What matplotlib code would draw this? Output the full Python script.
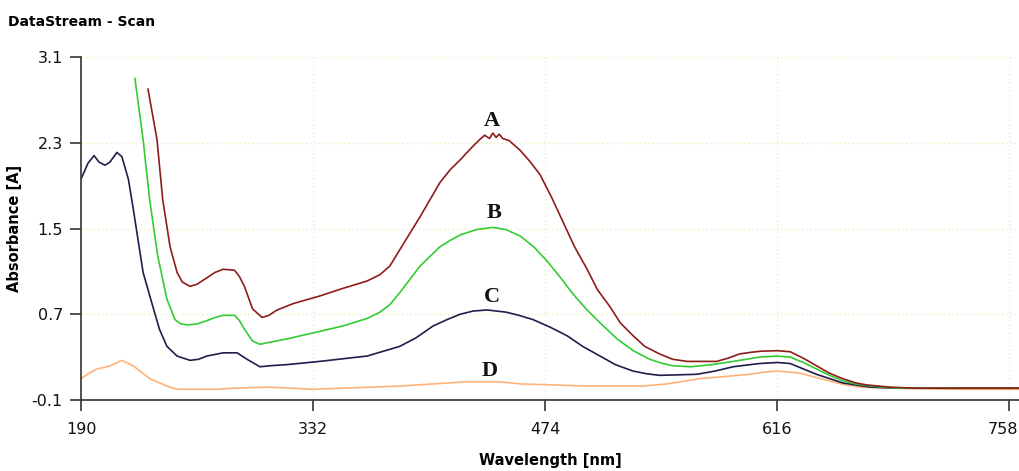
import matplotlib
matplotlib.use("Agg")
import matplotlib.pyplot as plt
from matplotlib import transforms

# ---- data ----
wl_a = [231, 236.5, 240, 244.5, 248.8, 252, 256.7, 261, 267, 272, 277, 284, 287, 290, 295, 300.8, 305, 310,
        320, 336, 350, 365, 373, 379, 385, 397.5, 409.7, 416, 422, 430, 434, 437, 440, 442, 444, 446, 448,
        452, 458.7, 465, 471, 478, 485, 492, 499.7, 506, 513.7, 520, 527.8, 535, 544, 552, 561, 570, 579,
        586, 593, 600, 606, 616, 624, 632, 640, 648, 656, 664, 671, 685, 700, 730, 765]
abs_a = [2.80, 2.33, 1.77, 1.33, 1.09, 1.00, 0.96, 0.98, 1.04, 1.09, 1.12, 1.11, 1.05, 0.96, 0.75, 0.67, 0.69, 0.74,
         0.80, 0.87, 0.94, 1.01, 1.07, 1.15, 1.30, 1.61, 1.93, 2.05, 2.14, 2.27, 2.33, 2.37, 2.34, 2.39, 2.35, 2.38,
         2.34, 2.32, 2.23, 2.12, 2.00, 1.79, 1.56, 1.33, 1.12, 0.93, 0.77, 0.62, 0.50, 0.40, 0.33, 0.28, 0.26,
         0.26, 0.26, 0.29, 0.33, 0.345, 0.355, 0.36, 0.35, 0.29, 0.22, 0.15, 0.10, 0.06, 0.04, 0.02, 0.01, 0.01,
         0.01]

wl_b = [223, 228, 232, 237, 242.6, 247.5, 251, 255.5, 261, 267, 272, 277, 284, 287, 290, 295, 299.5, 306, 316,
        336, 350, 365, 373, 379, 385, 397.5, 409.7, 416, 422, 432, 442, 450, 458.7, 467, 475, 483, 491, 499.7,
        509, 518, 528, 538, 545, 552, 563, 576, 589, 605, 616, 624, 632, 640, 648, 656, 664, 673, 690, 730, 765]
abs_b = [2.90, 2.33, 1.77, 1.24, 0.84, 0.65, 0.61, 0.60, 0.61, 0.64, 0.67, 0.69, 0.69, 0.64, 0.56, 0.45, 0.42, 0.44,
         0.47, 0.54, 0.59, 0.66, 0.72, 0.79, 0.90, 1.15, 1.33, 1.39, 1.44, 1.49, 1.51, 1.49, 1.43, 1.33, 1.20, 1.05,
         0.89, 0.74, 0.60, 0.47, 0.36, 0.28, 0.245, 0.22, 0.21, 0.23, 0.26, 0.30, 0.31, 0.30, 0.25, 0.19, 0.13,
         0.08, 0.05, 0.03, 0.01, 0.01, 0.01]

wl_c = [190, 194.3, 198, 201, 204.7, 207.7, 212, 215, 219, 221.8, 228, 234, 238, 242.6, 248.8, 256.7, 262, 267,
        277, 285.5, 291.6, 299.5, 306, 316, 336, 365, 385, 395, 405.4, 414, 422, 430, 438.5, 450, 458, 466.6,
        477, 487.4, 497, 507.6, 517, 527.8, 536, 544, 556, 567, 578, 589, 605, 616, 624, 632, 640, 648, 656,
        664, 673, 690, 730, 765]
abs_c = [1.96, 2.11, 2.18, 2.12, 2.09, 2.12, 2.21, 2.17, 1.96, 1.70, 1.09, 0.77, 0.56, 0.40, 0.31, 0.27, 0.28, 0.31,
         0.34, 0.34, 0.28, 0.21, 0.22, 0.23, 0.26, 0.31, 0.40, 0.48, 0.59, 0.65, 0.70, 0.73, 0.74, 0.72, 0.69, 0.65,
         0.58, 0.50, 0.40, 0.31, 0.23, 0.17, 0.145, 0.13, 0.135, 0.14, 0.17, 0.21, 0.24, 0.25, 0.24, 0.19, 0.14,
         0.10, 0.06, 0.04, 0.02, 0.01, 0.01, 0.01]

wl_d = [190, 195, 199.8, 206, 211, 215, 221.8, 227, 232, 242.6, 248.8, 273, 283, 303.8, 319.7, 332, 385, 426,
        446, 459, 480, 499.7, 534, 548.6, 569, 585, 599, 608, 616, 624, 630, 640, 650, 658, 667, 690, 730, 765]
abs_d = [0.10, 0.15, 0.19, 0.21, 0.24, 0.27, 0.22, 0.16, 0.10, 0.03, 0.00, 0.00, 0.01, 0.02, 0.01, 0.00, 0.03, 0.07,
         0.07, 0.05, 0.04, 0.03, 0.03, 0.05, 0.10, 0.12, 0.14, 0.16, 0.17, 0.16, 0.15, 0.11, 0.07, 0.04, 0.02, 0.01,
         0.00, 0.00]

wl_base = [685, 765]
abs_base = [0.01, 0.01]

labels = ["A", "B", "C", "D"]
label_x = [441.5, 442.8, 441.5, 440]
label_y = [2.50, 1.64, 0.86, 0.17]

xticks = [190, 332, 474, 616, 758]
yticks = [-0.1, 0.7, 1.5, 2.3, 3.1]
ytick_labels = ["-0.1", "0.7", "1.5", "2.3", "3.1"]

# ---- figure ----
fig = plt.figure(figsize=(10.2, 4.71), dpi=100)
ax = fig.add_axes([81 / 1020, 1 - 400 / 471, 1 - 81 / 1020, (400 - 57) / 471])

ax.plot(wl_base, abs_base, color="#d8e020", lw=1.2)
ax.plot(wl_d, abs_d, color="#ffb278", lw=1.2)
ax.plot(wl_c, abs_c, color="#1e1e4c", lw=1.2)
ax.plot(wl_b, abs_b, color="#33cc33", lw=1.2)
ax.plot(wl_a, abs_a, color="#8e1c1c", lw=1.2)

for t, x, y in zip(labels, label_x, label_y):
    ax.text(x, y, t, ha="center", va="center", fontsize=16, fontweight="bold",
            family="Liberation Serif", color="#111111")

ax.set_xlim(190, 764.6)
ax.set_ylim(-0.1, 3.1)
ax.set_xticks(xticks)
ax.set_xticklabels([str(v) for v in xticks])
ax.set_yticks(yticks)
ax.set_yticklabels(ytick_labels)

ax.grid(True, color="#eeeebb", linestyle=(0, (1, 2)), lw=1.0)
ax.set_axisbelow(True)

for s in ["top", "right"]:
    ax.spines[s].set_visible(False)
for s in ["left", "bottom"]:
    ax.spines[s].set_color("#333333")
    ax.spines[s].set_linewidth(1.2)

ax.tick_params(axis="both", direction="out", length=8, width=1.2, color="#333333",
               labelsize=11.5, labelcolor="#111111")
ax.tick_params(axis="x", pad=8)
ax.tick_params(axis="y", pad=5)

# keep the last x tick label inside the figure
last = ax.get_xticklabels()[-1]
last.set_transform(last.get_transform() + transforms.ScaledTranslation(-6 / 100, 0, fig.dpi_scale_trans))

ax.set_xlabel("Wavelength [nm]", fontsize=10.5, fontweight="bold")
ax.xaxis.set_label_coords(0.5, -(453 - 400) / 343)
ax.set_ylabel("Absorbance [A]", fontsize=10.5, fontweight="bold")
ax.yaxis.set_label_coords(-(81 - 22) / 939, 0.5)

fig.text(8 / 1020, 1 - 22 / 471, "DataStream - Scan", fontsize=10, fontweight="bold",
         ha="left", va="center")

fig.savefig("out.png", dpi=100)
